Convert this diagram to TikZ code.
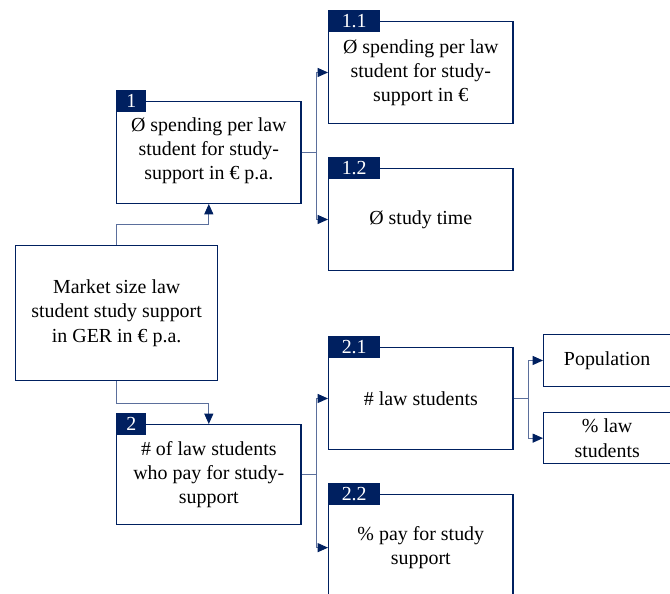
\documentclass[tikz,border=0pt]{standalone}
\usepackage{fontspec}
\setmainfont{Liberation Serif}
\usepackage{tikz}
\usetikzlibrary{calc,positioning,arrows.meta}
\definecolor{navy}{HTML}{002060}
\definecolor{linkblue}{HTML}{5B6F9C}

\begin{document}
\begin{tikzpicture}[
        x=0.03cm, y=-0.03cm,
        font=\fontsize{17}{20.6}\selectfont,
        box/.style={draw=navy, line width=1.1pt, fill=white, align=center, inner sep=0pt, anchor=north west, minimum width=5.53cm, minimum height=3.05cm},
        small/.style={box, minimum width=3.81cm, minimum height=1.55cm},
        tag/.style={fill=navy, text=white, inner sep=0pt, anchor=west, minimum height=0.66cm, minimum width=0.9cm},
        wtag/.style={tag, minimum width=1.56cm},
        link/.style={draw=linkblue, line width=0.8pt},
        arr/.style={link, -{Triangle[length=0.31cm, width=0.27cm, color=navy]}}
    ]
        \useasboundingbox (0,0) rectangle (670,594);
        \clip (0,0) rectangle (670,594);

        % Root
        \node[box, minimum width=6.06cm, minimum height=4.05cm] (root) at (15,245) {Market size law\\student study support\\in GER in € p.a.};

        % First level
        \node[box] (b1) at (116,101) {\\[-12pt]Ø spending per law\\student for study-\\support in € p.a.};
        \node[box, minimum height=3cm] (b2) at (116,424) {\# of law students\\who pay for study-\\support};

        % Second level
        \node[box] (b11) at (328,21) {Ø spending per law\\student for study-\\support in €};
        \node[box] (b12) at (328,168) {Ø study time};
        \node[box] (b21) at (328,347) {\# law students};
        \node[box, minimum height=3.18cm] (b22) at (328,494) {\% pay for study\\support};

        % Third level
        \node[small] (pop) at (543,334) {Population};
        \node[small, minimum height=1.53cm] (pct) at (543,412) {\% law\\students};

        % Number tags
        \node[tag] (t1) at (b1.north west) {1};
        \node[tag] (t2) at (b2.north west) {2};
        \node[wtag] (t11) at (b11.north west) {1.1};
        \node[wtag] (t12) at (b12.north west) {1.2};
        \node[wtag] (t21) at (b21.north west) {2.1};
        \node[wtag] (t22) at (b22.north west) {2.2};

        % Connectors
        \draw[arr] (root.north) -- ++(0,-21) -| (b1.south);
        \draw[arr] (root.south) -- ++(0,22) -| (b2.north);

        \coordinate (j1) at ($(b1.east)+(15,0)$);
        \coordinate (j2) at ($(b2.east)+(15,0)$);
        \coordinate (j21) at ($(b21.east)+(15,0)$);

        \draw[link] (b1.east) -- (j1);
        \draw[arr] (j1) |- (b11.west);
        \draw[arr] (j1) |- (b12.west);

        \draw[link] (b2.east) -- (j2);
        \draw[arr] (j2) |- (b21.west);
        \draw[arr] (j2) |- (b22.west);

        \draw[link] (b21.east) -- (j21);
        \draw[arr] (j21) |- (pop.west);
        \draw[arr] (j21) |- (pct.west);
    \end{tikzpicture}
\end{document}
